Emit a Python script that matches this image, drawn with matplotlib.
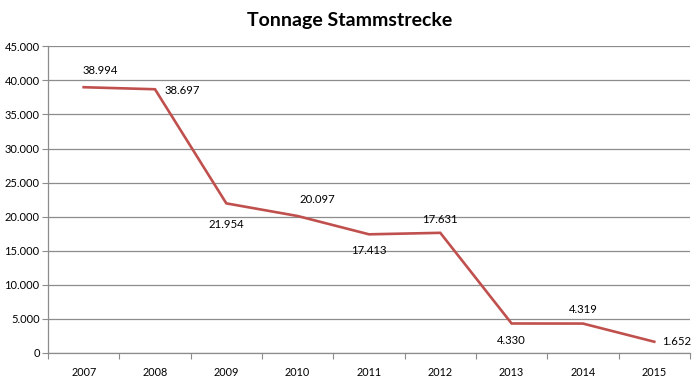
import matplotlib
matplotlib.use("Agg")
import matplotlib.pyplot as plt
from matplotlib.ticker import FuncFormatter, FixedLocator, NullFormatter

years = ["2007", "2008", "2009", "2010", "2011", "2012", "2013", "2014", "2015"]
tonnage = [38994, 38697, 21954, 20097, 17413, 17631, 4330, 4319, 1652]
value_labels = ["38.994", "38.697", "21.954", "20.097", "17.413", "17.631", "4.330", "4.319", "1.652"]
yticks = [0, 5000, 10000, 15000, 20000, 25000, 30000, 35000, 40000, 45000]

# label offsets (points) and horizontal alignment, styling only
offsets = [(12, 12), (7, -1), (0, -15), (14, 12), (0, -12), (0, 9.5), (0, -12), (0, 10), (6, 0)]
aligns = ["center", "left", "center", "center", "center", "center", "center", "center", "left"]

plt.rcParams['font.family'] = ['Lato', 'DejaVu Sans']
fig = plt.figure(figsize=(7, 3.81), dpi=100)
ax = fig.add_axes([0.0686, 0.0735, 0.917, 0.805])

x = list(range(len(years)))
ax.plot(x, tonnage, color="#C0504D", lw=1.9, solid_joinstyle="miter")

for xi, v, lab, off, ha in zip(x, tonnage, value_labels, offsets, aligns):
    ax.annotate(lab, (xi, v), xytext=off, textcoords="offset points",
                ha=ha, va="center", fontsize=8.2, color="#000000")

ax.set_xlim(-0.5, len(years) - 0.5)
ax.set_ylim(0, 45000)
ax.set_yticks(yticks)
ax.yaxis.set_major_formatter(FuncFormatter(lambda v, p: "0" if v == 0 else f"{int(v):,}".replace(",", ".")))
ax.grid(axis="y", color="#8c8c8c", lw=0.9)
ax.set_axisbelow(True)

ax.xaxis.set_major_locator(FixedLocator([i - 0.5 for i in range(len(years) + 1)]))
ax.xaxis.set_major_formatter(NullFormatter())
ax.xaxis.set_minor_locator(FixedLocator(x))
ax.xaxis.set_minor_formatter(FuncFormatter(lambda v, p: years[int(round(v))]))
ax.tick_params(axis="x", which="major", length=4, color="#8c8c8c", direction="out")
ax.tick_params(axis="x", which="minor", length=0, labelsize=7.8, pad=10)
ax.tick_params(axis="y", length=4, color="#8c8c8c", labelsize=8, pad=2)

for s in ["top", "right"]:
    ax.spines[s].set_visible(False)
for s in ["left", "bottom"]:
    ax.spines[s].set_color("#8c8c8c")
    ax.spines[s].set_linewidth(0.9)

fig.text(0.5, 0.945, "Tonnage Stammstrecke", ha="center", va="center",
         fontsize=14, fontweight="bold")

fig.savefig("out.png", dpi=100)
